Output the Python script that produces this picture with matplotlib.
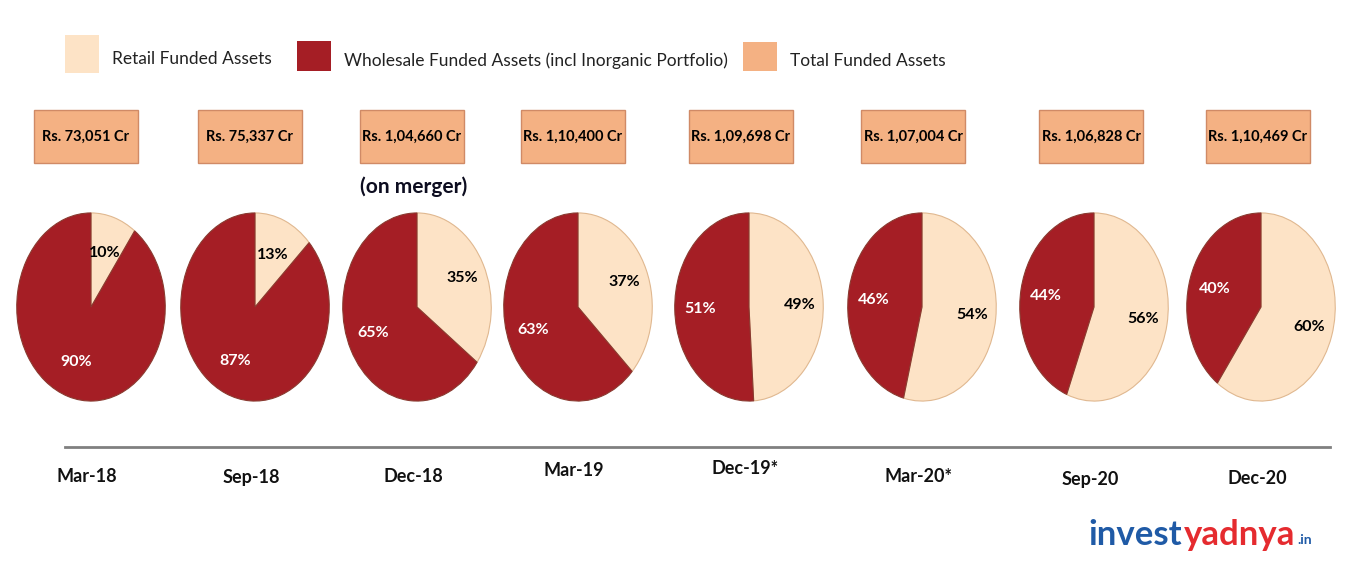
"""
Retail vs wholesale share of funded assets, one pie per quarter,
with total funded assets in boxes above each pie.
"""

import matplotlib.pyplot as plt
import numpy as np
from matplotlib.patches import Rectangle

periods = ["Mar-18", "Sep-18", "Dec-18", "Mar-19", "Dec-19*", "Mar-20*", "Sep-20", "Dec-20"]
retail = [10, 13, 35, 37, 49, 54, 56, 60]
wholesale = [90, 87, 65, 63, 51, 46, 44, 40]
totals = ["Rs. 73,051 Cr", "Rs. 75,337 Cr", "Rs. 1,04,660 Cr", "Rs. 1,10,400 Cr",
          "Rs. 1,09,698 Cr", "Rs. 1,07,004 Cr", "Rs. 1,06,828 Cr", "Rs. 1,10,469 Cr"]

W, H = 1357, 579
retail_col = "#FDE3C6"
whole_col = "#A51E25"
total_col = "#F4B183"

plt.rcParams['font.family'] = ['Lato', 'DejaVu Sans']

fig = plt.figure(figsize=(W / 100, H / 100), dpi=100)

# overlay axes in pixel units for boxes, labels and legend
ov = fig.add_axes([0, 0, 1, 1])
ov.set_xlim(0, W)
ov.set_ylim(H, 0)
ov.axis("off")

pie_x = [91, 255, 417, 578, 749, 922, 1094, 1261]
box_x = [86, 250, 412, 573, 741, 913, 1091, 1258]
lab_y = [476, 477, 477, 470, 469, 476, 480, 479]
pie_y, rx, ry = 307, 75, 95

for i, p in enumerate(periods):
    cx = pie_x[i]
    ax = fig.add_axes([(cx - rx) / W, 1 - (pie_y + ry) / H, 2 * rx / W, 2 * ry / H])
    wedges, _ = ax.pie([retail[i], wholesale[i]], colors=[retail_col, whole_col],
                       startangle=90, counterclock=False, radius=1,
                       wedgeprops=dict(edgecolor="#8a3a30", linewidth=0.8))
    wedges[0].set_edgecolor("#e0b890")
    ax.set_aspect("auto")
    ax.set_xlim(-1.01, 1.01)
    ax.set_ylim(-1.01, 1.01)
    # percentage labels
    r_mid = np.deg2rad(90 - retail[i] * 1.8)
    w_mid = np.deg2rad(90 + wholesale[i] * 1.8)
    d_r = 0.6 if retail[i] < 20 else 0.68
    ax.text(d_r * np.cos(r_mid), d_r * np.sin(r_mid), f"{retail[i]}%",
            ha="center", va="center", fontsize=11.5, fontweight="bold", color="black")
    ax.text(0.66 * np.cos(w_mid), 0.62 * np.sin(w_mid), f"{wholesale[i]}%",
            ha="center", va="center", fontsize=11.5, fontweight="bold", color="white")

    bx = box_x[i]
    ov.add_patch(Rectangle((bx - 52, 110), 104, 53, facecolor=total_col,
                           edgecolor="#d08a66", linewidth=1))
    ov.text(bx, 137, totals[i], ha="center", va="center", fontsize=10.5,
            fontweight="bold", color="black")
    ov.text(cx - 4, lab_y[i], p, ha="center", va="center", fontsize=13,
            fontweight="bold", color="#111111")

ov.text(414, 187, "(on merger)", ha="center", va="center", fontsize=15,
        fontweight="bold", color="#0d0d20")
ov.plot([65, 1330], [447, 447], color="#808080", linewidth=2)

# legend
leg = [("Retail Funded Assets", retail_col, 65, 35, 38),
       ("Wholesale Funded Assets (incl Inorganic Portfolio)", whole_col, 297, 41, 30),
       ("Total Funded Assets", total_col, 743, 42, 29)]
for txt, col, x0, y0, h in leg:
    ov.add_patch(Rectangle((x0, y0), 34, h, facecolor=col, edgecolor="none"))
    ov.text(x0 + 47, y0 + h / 2 + 5, txt, ha="left", va="center", fontsize=12.5,
            color="#222222")

# watermark, pieces chained one after another
fig.canvas.draw()
renderer = fig.canvas.get_renderer()
x = 1088
for txt, size, col, dy in [("invest", 25, "#1f5aa6", 0), ("yadnya", 25, "#e52b2f", 0),
                           (".in", 10, "#1f5aa6", 5)]:
    t = ov.text(x, 535 + dy, txt, ha="left", va="center", fontsize=size,
                fontweight="bold", color=col)
    bb = t.get_window_extent(renderer)
    x += bb.width * W / fig.bbox.width + 2

fig.savefig("out.png", dpi=100, facecolor="white")
